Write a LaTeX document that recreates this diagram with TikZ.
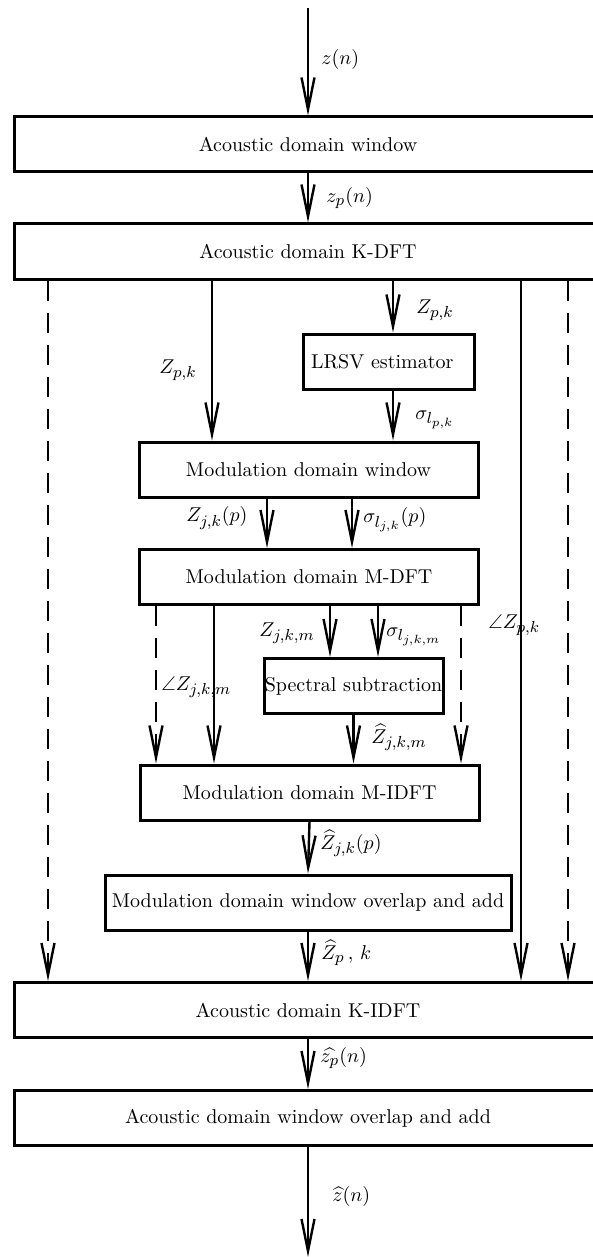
\documentclass[tikz,border=0pt]{standalone}
\usepackage{amsmath}
\usepackage{amssymb}
\DeclareMathSizes{10}{10}{8}{6}
\usetikzlibrary{arrows.meta}

\begin{document}
\begin{tikzpicture}[x=0.5pt,y=-0.5pt,
        box/.style={draw, line width=1.5pt, minimum height=27.5pt, inner sep=0pt},
        bigbox/.style={box, minimum width=294pt},
        modbox/.style={box, minimum width=169.5pt},
        arr/.style={line width=1.2pt, -{Straight Barb[length=16pt,width=6.5pt]}},
        dasharr/.style={arr, dash pattern=on 10pt off 6pt},
        lbl/.style={anchor=west, inner sep=0pt}]
        \useasboundingbox (0,0) rectangle (593,1257);

        % Acoustic domain boxes
        \node[bigbox] (acwin) at (308,144.5) {Acoustic domain window};
        \node[bigbox] (kdft) at (308,251.5) {Acoustic domain K-DFT};
        \node[bigbox] (kidft) at (308,1010) {Acoustic domain K-IDFT};
        \node[bigbox] (acola) at (308,1118) {Acoustic domain window overlap and add};

        % Modulation domain boxes
        \node[box, minimum width=85.5pt, inner xsep=4pt, text width=77.5pt, align=left] (lrsv) at (388.5,361.5) {LRSV estimator};
        \node[modbox] (modwin) at (308.5,469.5) {Modulation domain window};
        \node[modbox] (mdft) at (309,577) {Modulation domain M-DFT};
        \node[box, minimum width=89.5pt] (spec) at (353.5,686) {Spectral subtraction};
        \node[modbox] (midft) at (309.5,792.5) {Modulation domain M-IDFT};
        \node[box, minimum width=203pt] (modola) at (308,902.5) {Modulation domain window overlap and add};

        % Columns and free ends
        \coordinate (zin) at (308,8);
        \coordinate (zout) at (308,1257);
        \foreach \name/\x in {ca/48,cb/212,cc/393,cd/521,ce/568,cf/267,cg/352,ch/156,ci/214,cj/330,ck/378,cl/461}
            \coordinate (\name) at (\x,0);

        % Main signal path
        \draw[arr] (zin) -- (acwin.north);
        \draw[arr] (acwin.south) -- (kdft.north);
        \draw[arr] (midft.south) -- (modola.north);
        \draw[arr] (modola.south) -- (kidft.north);
        \draw[arr] (kidft.south) -- (acola.north);
        \draw[arr] (acola.south) -- (zout);

        % Bypass paths
        \draw[dasharr] (kdft.south -| ca) -- (kidft.north -| ca);
        \draw[arr] (kdft.south -| cd) -- (kidft.north -| cd);
        \draw[dasharr] (kdft.south -| ce) -- (kidft.north -| ce);

        % Modulation domain paths
        \draw[arr] (kdft.south -| cb) -- (modwin.north -| cb);
        \draw[arr] (kdft.south -| cc) -- (lrsv.north -| cc);
        \draw[arr] (lrsv.south -| cc) -- (modwin.north -| cc);
        \draw[arr] (modwin.south -| cf) -- (mdft.north -| cf);
        \draw[arr] (modwin.south -| cg) -- (mdft.north -| cg);
        \draw[dasharr] (mdft.south -| ch) -- (midft.north -| ch);
        \draw[arr] (mdft.south -| ci) -- (midft.north -| ci);
        \draw[arr] (mdft.south -| cj) -- (spec.north -| cj);
        \draw[arr] (mdft.south -| ck) -- (spec.north -| ck);
        \draw[dasharr] (mdft.south -| cl) -- (midft.north -| cl);
        \draw[arr] (spec.south) -- (midft.north -| spec.south);

        % Labels
        \node[lbl] (lzn) at (321,60) {$z(n)$};
        \node[lbl] (lzpn) at (326,198) {$z_p(n)$};
        \node[lbl] (lzpka) at (416,310) {$Z_{p,k}$};
        \node[lbl] (lzpkb) at (159,370) {$Z_{p,k}$};
        \node[lbl] (lsigpk) at (415,420) {$\sigma_{l_{p,k}}$};
        \node[lbl] (lzjkp) at (186,518) {$Z_{j,k}(p)$};
        \node[lbl] (lsigjkp) at (363,520) {$\sigma_{l_{j,k}}(p)$};
        \node[lbl] (lzjkm) at (259,633) {$Z_{j,k,m}$};
        \node[lbl] (lsigjkm) at (386,637) {$\sigma_{l_{j,k,m}}$};
        \node[lbl] (langpk) at (488,625) {$\angle Z_{p,k}$};
        \node[lbl] (langjkm) at (161,687) {$\angle Z_{j,k,m}$};
        \node[lbl] (lhzjkm) at (371,737) {$\widehat{Z}_{j,k,m}$};
        \node[lbl] (lhzjkp) at (320,843) {$\widehat{Z}_{j,k}(p)$};
        \node[lbl] (lhzpk) at (321,953) {$\widehat{Z}_p\,,\,k$};
        \node[lbl] (lhzpn) at (320,1058) {$\widehat{z_p}(n)$};
        \node[lbl] (lhzn) at (332,1196) {$\widehat{z}(n)$};

    \end{tikzpicture}
\end{document}
